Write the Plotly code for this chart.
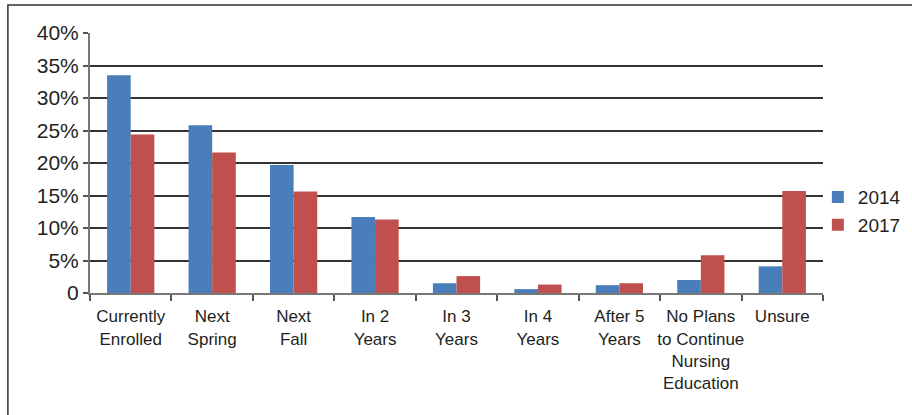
import plotly.graph_objects as go

categories = ["Currently<br>Enrolled", "Next<br>Spring", "Next<br>Fall", "In 2<br>Years",
              "In 3<br>Years", "In 4<br>Years", "After 5<br>Years",
              "No Plans<br>to Continue<br>Nursing<br>Education", "Unsure"]
values_2014 = [33.5, 25.8, 19.7, 11.7, 1.5, 0.6, 1.2, 2.0, 4.1]
values_2017 = [24.4, 21.6, 15.6, 11.3, 2.6, 1.3, 1.5, 5.8, 15.7]
y_tick_vals = [0, 5, 10, 15, 20, 25, 30, 35, 40]
y_tick_text = ["0", "5%", "10%", "15%", "20%", "25%", "30%", "35%", "40%"]

FONT = "Liberation Sans Narrow, Arial Narrow, Liberation Sans, sans-serif"

fig = go.Figure()
fig.add_trace(go.Bar(x=categories, y=values_2014, name="2014", marker_color="#4A7EBB",
                     marker_line_width=0))
fig.add_trace(go.Bar(x=categories, y=values_2017, name="2017", marker_color="#C0504D",
                     marker_line_width=0))

fig.update_layout(
    width=912, height=415,
    margin=dict(l=90, r=89, t=33, b=122, autoexpand=False),
    paper_bgcolor="white", plot_bgcolor="white",
    barmode="group", bargap=0.42, bargroupgap=0,
    font=dict(family=FONT, size=18, color="#231F20"),
    showlegend=True,
    legend=dict(x=0.993, y=0.315, xanchor="left", yanchor="middle",
                font=dict(size=19), itemwidth=30, tracegroupgap=4,
                bgcolor="rgba(0,0,0,0)"),
    shapes=[dict(type="rect", xref="paper", yref="paper",
                 x0=-0.112, x1=1.3, y0=-0.7, y1=1.108,
                 line=dict(color="#333333", width=1.5), fillcolor="rgba(0,0,0,0)",
                 layer="below")],
)
fig.update_xaxes(showline=True, linecolor="#777777", linewidth=2,
                 ticks="outside", tickson="boundaries", ticklen=6, tickcolor="#555555",
                 tickwidth=1.5, showgrid=False, tickfont=dict(size=17),
                 tickangle=0, automargin=False, ticklabelstandoff=7)
fig.update_yaxes(range=[0, 40], tickvals=y_tick_vals, ticktext=y_tick_text,
                 showgrid=True, gridcolor="#333333", gridwidth=1.5,
                 showline=True, linecolor="#777777", linewidth=2,
                 ticks="outside", ticklen=5, tickcolor="#555555", tickwidth=1.5,
                 zeroline=False, tickfont=dict(size=21), automargin=False)

fig.write_html("out.html", config={"displayModeBar": False},
               post_script="document.body.style.margin='0';document.body.style.overflow='hidden';")
